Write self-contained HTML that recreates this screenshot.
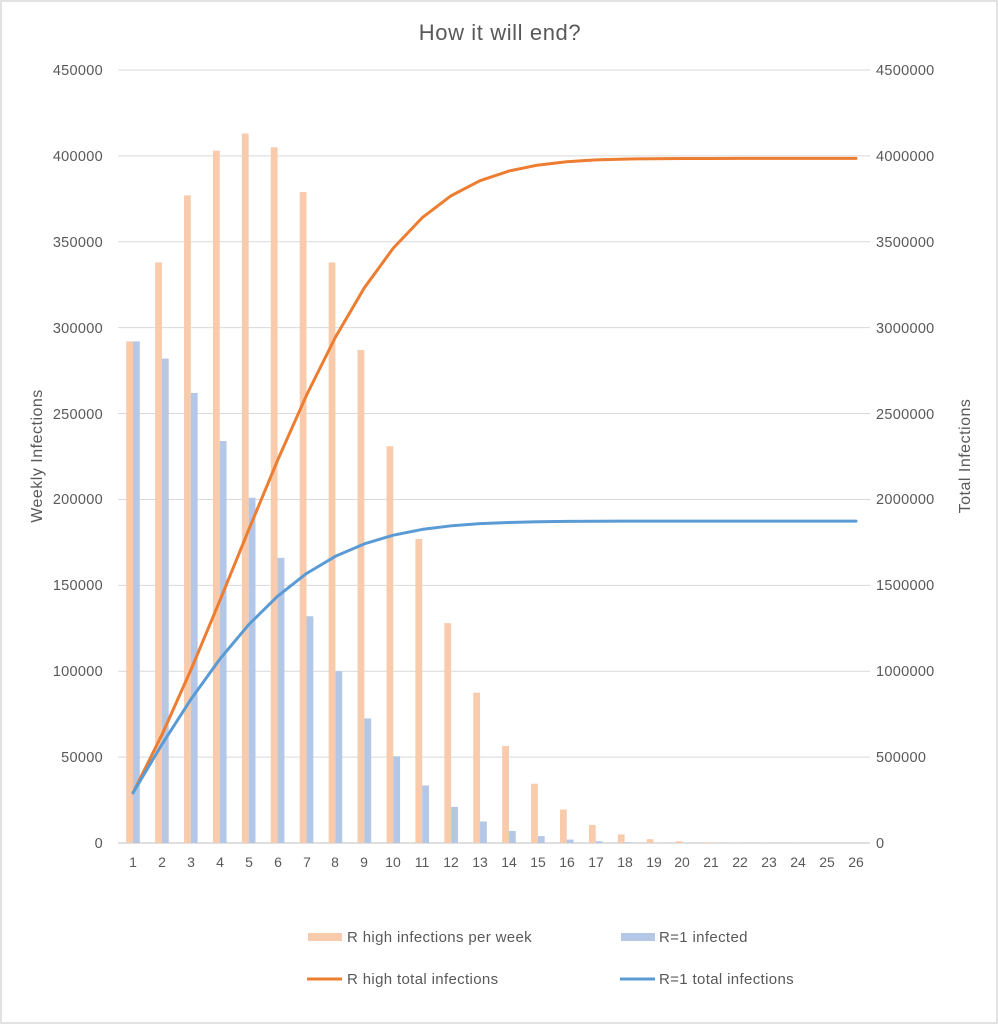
<!DOCTYPE html>
<html><head><meta charset="utf-8"><style>
html,body{margin:0;padding:0;background:#fff}
svg{display:block;font-family:"Liberation Sans",sans-serif}
</style></head><body>
<svg id="c" width="998" height="1024" xmlns="http://www.w3.org/2000/svg">
<rect x="1" y="1" width="996" height="1022" fill="#fff" stroke="#d9d9d9" stroke-width="1.5"/>
<text x="500" y="40" text-anchor="middle" font-size="22" letter-spacing="0.6" fill="#595959">How it will end?</text>
<g id="grid"></g>
<g font-size="14.5" letter-spacing="0.3" fill="#595959" text-anchor="end">
<text x="103" y="75">450000</text><text x="103" y="161">400000</text><text x="103" y="247">350000</text><text x="103" y="333">300000</text><text x="103" y="419">250000</text><text x="103" y="504">200000</text><text x="103" y="590">150000</text><text x="103" y="676">100000</text><text x="103" y="762">50000</text><text x="103" y="848">0</text>
</g>
<g font-size="14.5" letter-spacing="0.3" fill="#595959" text-anchor="start">
<text x="876" y="75">4500000</text><text x="876" y="161">4000000</text><text x="876" y="247">3500000</text><text x="876" y="333">3000000</text><text x="876" y="419">2500000</text><text x="876" y="504">2000000</text><text x="876" y="590">1500000</text><text x="876" y="676">1000000</text><text x="876" y="762">500000</text><text x="876" y="848">0</text>
</g>
<g font-size="14" fill="#595959" text-anchor="middle">
<text x="133" y="867">1</text><text x="162" y="867">2</text><text x="191" y="867">3</text><text x="220" y="867">4</text><text x="249" y="867">5</text><text x="278" y="867">6</text><text x="307" y="867">7</text><text x="335" y="867">8</text><text x="364" y="867">9</text><text x="393" y="867">10</text><text x="422" y="867">11</text><text x="451" y="867">12</text><text x="480" y="867">13</text><text x="509" y="867">14</text><text x="538" y="867">15</text><text x="567" y="867">16</text><text x="596" y="867">17</text><text x="625" y="867">18</text><text x="654" y="867">19</text><text x="682" y="867">20</text><text x="711" y="867">21</text><text x="740" y="867">22</text><text x="769" y="867">23</text><text x="798" y="867">24</text><text x="827" y="867">25</text><text x="856" y="867">26</text>
</g>
<text transform="translate(42,456) rotate(-90)" text-anchor="middle" font-size="16" letter-spacing="0.5" fill="#595959">Weekly Infections</text>
<text transform="translate(970,456) rotate(-90)" text-anchor="middle" font-size="16" letter-spacing="0.5" fill="#595959">Total Infections</text>
<g id="plot"></g>
<g font-size="15" letter-spacing="0.35" fill="#595959">
<rect x="308" y="933" width="34" height="8" fill="#f8cbad"/>
<text x="347" y="942">R high infections per week</text>
<rect x="621" y="933" width="34" height="8" fill="#b4c7e7"/>
<text x="659" y="942">R=1 infected</text>
<line x1="307" y1="979" x2="342" y2="979" stroke="#ed7d31" stroke-width="3"/>
<text x="347" y="984">R high total infections</text>
<line x1="620" y1="979" x2="655" y2="979" stroke="#5b9bd5" stroke-width="3"/>
<text x="659" y="984">R=1 total infections</text>
</g>
</svg>
<script>
var NS="http://www.w3.org/2000/svg";
function el(p,t,a){var e=document.createElementNS(NS,t);for(var k in a)e.setAttribute(k,a[k]);p.appendChild(e);return e;}
var g=document.getElementById("grid"),p=document.getElementById("plot");
var y0=843,k=773/450000;
for(var i=0;i<=9;i++){var y=y0-i*50000*k;el(g,"line",{x1:118,x2:870,y1:y,y2:y,stroke:i==0?"#bfbfbf":"#d9d9d9","stroke-width":1});}
var o=[292000,338000,377000,403000,413000,405000,379000,338000,287000,231000,177000,128000,87500,56500,34500,19500,10500,5000,2200,1000,400,150,60,20,10,5];
var b=[292000,282000,262000,234000,201000,166000,132000,100000,72500,50500,33500,21000,12500,7000,4000,2000,1000,500,200,100,50,20,10,5,2,1];
function X(i){return 133+i*28.92;}
for(var i=0;i<26;i++){
 el(p,"rect",{x:X(i)-6.8,y:y0-o[i]*k,width:6.8,height:o[i]*k,fill:"#f8cbad"});
 el(p,"rect",{x:X(i),y:y0-b[i]*k,width:6.8,height:b[i]*k,fill:"#b4c7e7"});
}
function line(a,c){var s=0,pts=[];for(var i=0;i<26;i++){s+=a[i];pts.push(X(i)+","+(y0-s*k/10));}
 el(p,"polyline",{points:pts.join(" "),fill:"none",stroke:c,"stroke-width":3,"stroke-linejoin":"round","stroke-linecap":"round"});}
line(o,"#ed7d31");line(b,"#5b9bd5");
</script>
</body></html>
